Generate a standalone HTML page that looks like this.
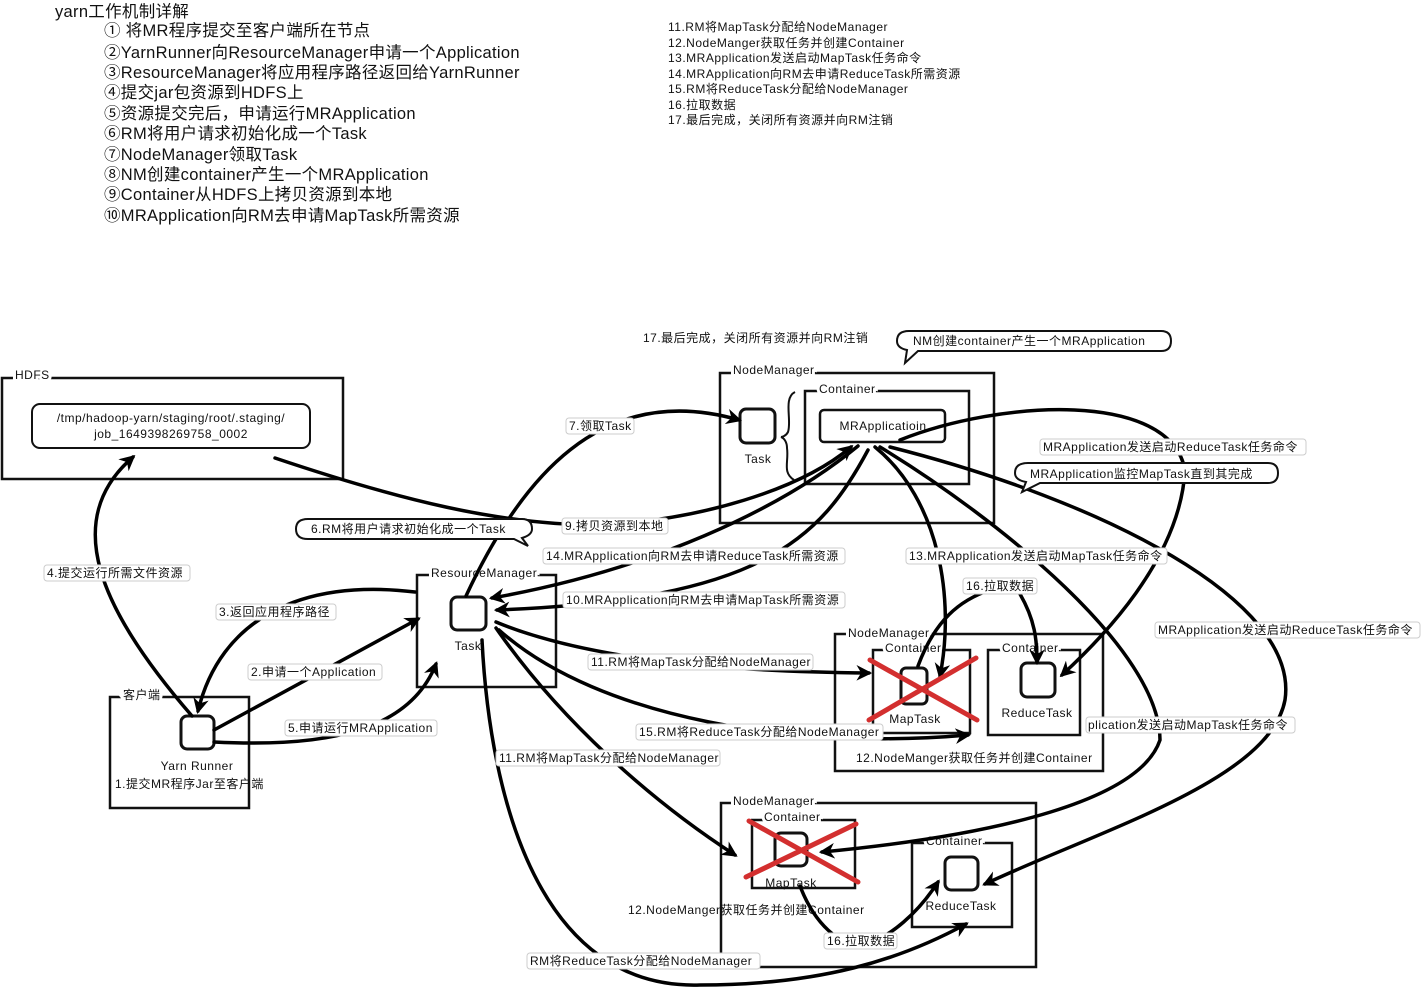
<!DOCTYPE html>
<html><head><meta charset="utf-8"><style>
html,body{margin:0;padding:0;background:#fff;}
svg{display:block;font-family:"Liberation Sans","Noto Sans CJK SC",sans-serif;}
.t{font-size:16.5px;fill:#111;letter-spacing:0.3px;}
.r{font-size:12px;fill:#111;letter-spacing:0.5px;}
.s{font-size:12px;fill:#111;letter-spacing:0.5px;}
.g{stroke:#fff;stroke-width:6;paint-order:stroke;}
.box{fill:none;stroke:#111;stroke-width:2.5;}
.sq{fill:#fff;stroke:#111;stroke-width:3;}
.ln{fill:none;stroke:#000;stroke-width:3.5;stroke-linecap:round;}
.lb{fill:#fff;stroke:#ccc;stroke-width:1;}
.x{stroke:#d32f2f;stroke-width:5;stroke-linecap:round;}
</style></head><body>
<svg width="1422" height="991" viewBox="0 0 1422 991" xmlns="http://www.w3.org/2000/svg">
<defs>
<marker id="a" viewBox="0 0 10 10" refX="8" refY="5" markerWidth="4.5" markerHeight="4.5" orient="auto-start-reverse">
<path d="M0,0 L10,5 L0,10 L3,5 Z" fill="#000"/></marker>
</defs>

<text class="t" x="55" y="17">yarn工作机制详解</text>
<g class="t">
<text x="104" y="36">① 将MR程序提交至客户端所在节点</text>
<text x="104" y="58">②YarnRunner向ResourceManager申请一个Application</text>
<text x="104" y="78">③ResourceManager将应用程序路径返回给YarnRunner</text>
<text x="104" y="98">④提交jar包资源到HDFS上</text>
<text x="104" y="119">⑤资源提交完后，申请运行MRApplication</text>
<text x="104" y="139">⑥RM将用户请求初始化成一个Task</text>
<text x="104" y="160">⑦NodeManager领取Task</text>
<text x="104" y="180">⑧NM创建container产生一个MRApplication</text>
<text x="104" y="200">⑨Container从HDFS上拷贝资源到本地</text>
<text x="104" y="221">⑩MRApplication向RM去申请MapTask所需资源</text>
</g>
<g class="r">
<text x="668" y="31">11.RM将MapTask分配给NodeManager</text>
<text x="668" y="47">12.NodeManger获取任务并创建Container</text>
<text x="668" y="62">13.MRApplication发送启动MapTask任务命令</text>
<text x="668" y="78">14.MRApplication向RM去申请ReduceTask所需资源</text>
<text x="668" y="93">15.RM将ReduceTask分配给NodeManager</text>
<text x="668" y="109">16.拉取数据</text>
<text x="668" y="124">17.最后完成，关闭所有资源并向RM注销</text>
</g>

<rect class="box" x="2" y="378" width="341" height="101"/>
<text class="s g" x="15" y="379">HDFS</text>
<rect x="32" y="404" width="278" height="44" rx="8" fill="none" stroke="#111" stroke-width="2"/>
<text class="s" x="171" y="422" text-anchor="middle">/tmp/hadoop-yarn/staging/root/.staging/</text>
<text class="s" x="171" y="438" text-anchor="middle">job_1649398269758_0002</text>

<rect class="box" x="110" y="697" width="139" height="111"/>
<text class="s g" x="123" y="699">客户端</text>
<rect class="sq" x="181" y="716" width="33" height="33" rx="6"/>
<text class="s" x="197" y="770" text-anchor="middle">Yarn Runner</text>
<text class="s" x="115" y="788">1.提交MR程序Jar至客户端</text>

<rect class="box" x="417" y="575" width="139" height="112"/>
<text class="s g" x="431" y="577">ResourceManager</text>
<rect class="sq" x="451" y="597" width="35" height="33" rx="6"/>
<text class="s" x="468" y="650" text-anchor="middle">Task</text>

<rect class="box" x="720" y="373" width="274" height="150"/>
<text class="s g" x="733" y="374">NodeManager</text>
<rect class="sq" x="740" y="409" width="35" height="34" rx="6"/>
<text class="s" x="758" y="463" text-anchor="middle">Task</text>
<path d="M795,392 C783,398 792,420 788,432 C786,436 782,437 781,437 C784,438 787,442 787,448 C789,462 782,472 794,480" fill="none" stroke="#111" stroke-width="2"/>
<rect class="box" x="805" y="391" width="164" height="93"/>
<text class="s g" x="819" y="393">Container</text>
<rect x="820" y="410" width="125" height="32" rx="4" fill="#fff" stroke="#111" stroke-width="2.5"/>
<text class="s" x="883" y="430" text-anchor="middle">MRApplicatioin</text>

<rect class="box" x="835" y="634" width="268" height="137"/>
<text class="s g" x="848" y="637">NodeManager</text>
<rect class="box" x="873" y="650" width="97" height="83"/>
<text class="s g" x="885" y="652">Container</text>
<rect class="sq" x="901" y="668" width="26" height="36" rx="5"/>
<text class="s" x="915" y="723" text-anchor="middle">MapTask</text>
<rect class="box" x="988" y="650" width="92" height="85"/>
<text class="s g" x="1002" y="652">Container</text>
<rect class="sq" x="1021" y="663" width="34" height="34" rx="6"/>
<text class="s" x="1037" y="717" text-anchor="middle">ReduceTask</text>
<text class="s" x="856" y="762">12.NodeManger获取任务并创建Container</text>

<rect class="box" x="721" y="803" width="315" height="164"/>
<text class="s g" x="733" y="805">NodeManager</text>
<rect class="box" x="752" y="820" width="103" height="68"/>
<text class="s g" x="764" y="821">Container</text>
<rect class="sq" x="775" y="833" width="32" height="33" rx="6"/>
<text class="s" x="791" y="887" text-anchor="middle">MapTask</text>
<rect class="box" x="912" y="843" width="100" height="84"/>
<text class="s g" x="926" y="845">Container</text>
<rect class="sq" x="945" y="857" width="33" height="33" rx="6"/>
<text class="s" x="961" y="910" text-anchor="middle">ReduceTask</text>
<text class="s" x="628" y="914">12.NodeManger获取任务并创建Container</text>

<g class="ln">
<path d="M192,716 C100,610 60,520 133,457" marker-end="url(#a)"/>
<path d="M415,592 C300,578 220,620 198,711" marker-end="url(#a)"/>
<path d="M214,730 L418,619" marker-end="url(#a)"/>
<path d="M214,742 C330,748 410,730 436,664" marker-end="url(#a)"/>
<path d="M275,458 C400,500 500,525 600,525 C700,520 800,490 851,447" marker-end="url(#a)"/>
<path d="M466,596 C520,480 600,380 739,420" marker-end="url(#a)"/>
<path d="M858,446 C780,510 650,570 492,598" marker-end="url(#a)"/>
<path d="M868,450 C820,540 760,600 497,610" marker-end="url(#a)"/>
<path d="M496,622 C600,665 760,672 869,673" marker-end="url(#a)"/>
<path d="M499,630 C600,720 800,750 968,735" marker-end="url(#a)"/>
<path d="M496,628 C560,720 650,800 735,855" marker-end="url(#a)"/>
<path d="M482,640 C490,800 540,990 700,985 C820,985 900,960 966,924" marker-end="url(#a)"/>
<path d="M875,447 C940,500 955,600 940,676" marker-end="url(#a)"/>
<path d="M880,447 C1000,520 1160,650 1160,740 C1140,800 1000,835 822,852" marker-end="url(#a)"/>
<path d="M900,440 C1000,400 1170,390 1185,470 C1180,560 1100,640 1062,675" marker-end="url(#a)"/>
<path d="M890,447 C1100,500 1300,600 1285,700 C1270,780 1100,830 985,884" marker-end="url(#a)"/>
<path d="M918,666 C935,620 960,600 990,590"/>
<path d="M1020,594 C1035,620 1037,640 1037,662" marker-end="url(#a)"/>
<path d="M800,886 C815,925 840,945 860,945 C890,940 920,910 938,882" marker-end="url(#a)"/>
</g>

<line class="x" x1="870" y1="660" x2="977" y2="720"/>
<line class="x" x1="869" y1="720" x2="976" y2="658"/>
<line class="x" x1="749" y1="821" x2="858" y2="882"/>
<line class="x" x1="746" y1="877" x2="856" y2="824"/>

<g class="s">
<rect class="lb" x="566" y="418" width="68" height="16" rx="3"/><text x="569" y="430">7.领取Task</text>
<rect class="lb" x="562" y="518" width="106" height="16" rx="3"/><text x="565" y="530">9.拷贝资源到本地</text>
<path d="M308,519 L522,519 Q532,519 532,529 Q532,535 522,538 L528,546 L514,539 L308,539 Q296,539 296,529 Q296,519 308,519 Z" fill="#fff" stroke="#111" stroke-width="2"/>
<text x="311" y="533">6.RM将用户请求初始化成一个Task</text>
<rect class="lb" x="543" y="548" width="302" height="16" rx="3"/><text x="546" y="560">14.MRApplication向RM去申请ReduceTask所需资源</text>
<rect class="lb" x="563" y="592" width="282" height="16" rx="3"/><text x="566" y="604">10.MRApplication向RM去申请MapTask所需资源</text>
<rect class="lb" x="588" y="654" width="225" height="16" rx="3"/><text x="591" y="666">11.RM将MapTask分配给NodeManager</text>
<rect class="lb" x="636" y="724" width="247" height="16" rx="3"/><text x="639" y="736">15.RM将ReduceTask分配给NodeManager</text>
<rect class="lb" x="496" y="750" width="224" height="16" rx="3"/><text x="499" y="762">11.RM将MapTask分配给NodeManager</text>
<rect class="lb" x="44" y="565" width="146" height="16" rx="3"/><text x="47" y="577">4.提交运行所需文件资源</text>
<rect class="lb" x="216" y="604" width="120" height="16" rx="3"/><text x="219" y="616">3.返回应用程序路径</text>
<rect class="lb" x="248" y="664" width="134" height="16" rx="3"/><text x="251" y="676">2.申请一个Application</text>
<rect class="lb" x="285" y="720" width="152" height="16" rx="3"/><text x="288" y="732">5.申请运行MRApplication</text>
<rect class="lb" x="906" y="548" width="261" height="16" rx="3"/><text x="909" y="560">13.MRApplication发送启动MapTask任务命令</text>
<rect class="lb" x="963" y="578" width="74" height="16" rx="3"/><text x="966" y="590">16.拉取数据</text>
<rect class="lb" x="1040" y="439" width="266" height="16" rx="3"/><text x="1043" y="451">MRApplication发送启动ReduceTask任务命令</text>
<path d="M1028,463 L1268,463 Q1278,463 1278,473 Q1278,483 1268,483 L1040,483 L1022,492 L1026,482 Q1015,480 1015,473 Q1015,463 1028,463 Z" fill="#fff" stroke="#111" stroke-width="2"/>
<text x="1030" y="478">MRApplication监控MapTask直到其完成</text>
<path d="M909,331 L1161,331 Q1171,331 1171,341 Q1171,351 1161,351 L918,351 L905,363 L907,350 Q897,348 897,341 Q897,331 909,331 Z" fill="#fff" stroke="#111" stroke-width="2"/>
<text x="913" y="345">NM创建container产生一个MRApplication</text>
<text x="643" y="342">17.最后完成，关闭所有资源并向RM注销</text>
<rect class="lb" x="1155" y="622" width="265" height="16" rx="3"/><text x="1158" y="634">MRApplication发送启动ReduceTask任务命令</text>
<rect class="lb" x="1086" y="717" width="209" height="16" rx="3"/><text x="1088" y="729">plication发送启动MapTask任务命令</text>
<rect class="lb" x="824" y="933" width="73" height="16" rx="3"/><text x="827" y="945">16.拉取数据</text>
<rect class="lb" x="527" y="953" width="233" height="16" rx="3"/><text x="530" y="965">RM将ReduceTask分配给NodeManager</text>
</g>
</svg>
</body></html>
